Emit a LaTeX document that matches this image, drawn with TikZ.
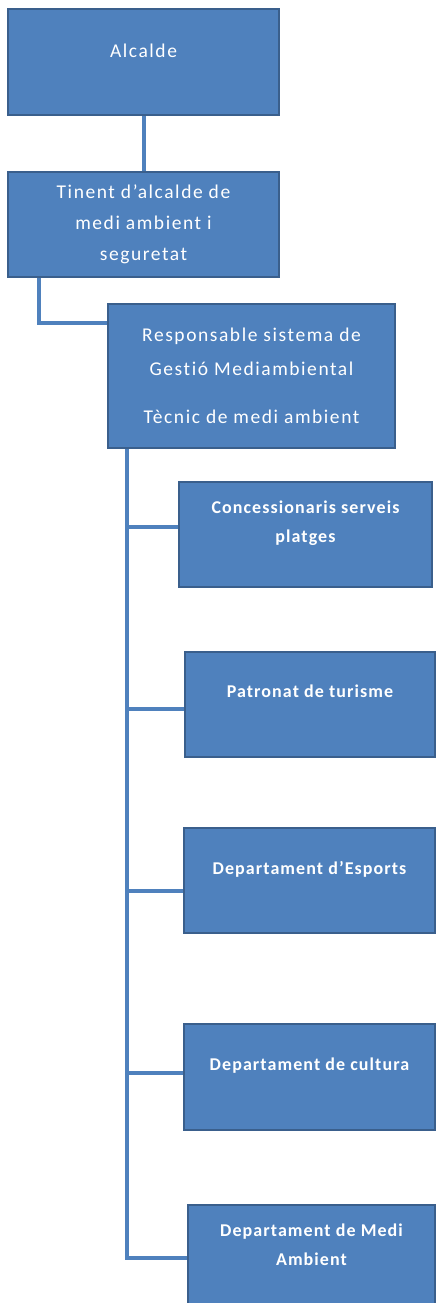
\documentclass[tikz,border=0pt]{standalone}
\usepackage{fontspec}
\setmainfont{Carlito}
\newfontfamily\wide[LetterSpace=8,Ligatures=NoCommon]{Carlito}
\newfontfamily\widebf[LetterSpace=6,Ligatures=NoCommon]{Carlito Bold}
\definecolor{boxblue}{HTML}{4F81BD}
\definecolor{boxedge}{HTML}{3A5F8C}
\tikzset{
  box/.style={draw=boxedge, line width=2pt, fill=boxblue, text=white,
    align=center, inner sep=0pt},
  topbox/.style={box, font=\wide\fontsize{19.5}{31}\selectfont},
  unitbox/.style={box, font=\widebf\fontsize{18}{29}\selectfont,
    text depth=26pt},
  link/.style={draw=boxblue, line width=4pt},
}
\begin{document}
\begin{tikzpicture}[x=1pt,y=-1pt]
  \useasboundingbox (0,0) rectangle (436,1303);
  \draw
    (143.5,62) node[topbox,minimum width=271pt,minimum height=106pt,text depth=22pt] (alcalde){Alcalde}
    (143.5,224.5) node[topbox,minimum width=271pt,minimum height=105pt] (tinent){Tinent d’alcalde de\\medi ambient i\\seguretat}
    (251.5,376) node[topbox,minimum width=287pt,minimum height=144pt,font=\wide\fontsize{19.5}{34}\selectfont] (resp){Responsable sistema de\\Gestió Mediambiental\\[14pt]Tècnic de medi ambient}
    (305.5,534.5) node[unitbox,minimum width=253pt,minimum height=105pt] (conc){Concessionaris serveis\\platges}
    (310,704.5) node[unitbox,minimum width=250pt,minimum height=105pt] (patr){Patronat de turisme}
    (309.5,880.5) node[unitbox,minimum width=251pt,minimum height=105pt] (esp){Departament d’Esports}
    (309.5,1077) node[unitbox,minimum width=251pt,minimum height=106pt] (cult){Departament de cultura}
    (311.5,1257.5) node[unitbox,minimum width=247pt,minimum height=105pt] (medi){Departament de Medi\\Ambient};
  \coordinate (trunk) at ([xshift=20pt]resp.south west);
  \begin{scope}[link]
    \draw (alcalde) to (tinent);
    \draw ([xshift=32pt]tinent.south west) |- ([yshift=53pt]resp.west);
    \draw (trunk) -- ([yshift=-2pt]trunk |- medi.west);
    \foreach \n/\s in {conc/7.5,patr/-4.5,esp/-10.5,cult/4,medi/0}
      \draw ([yshift=\s pt]trunk |- \n.west) -- ([yshift=\s pt]\n.west);
  \end{scope}
\end{tikzpicture}
\end{document}
